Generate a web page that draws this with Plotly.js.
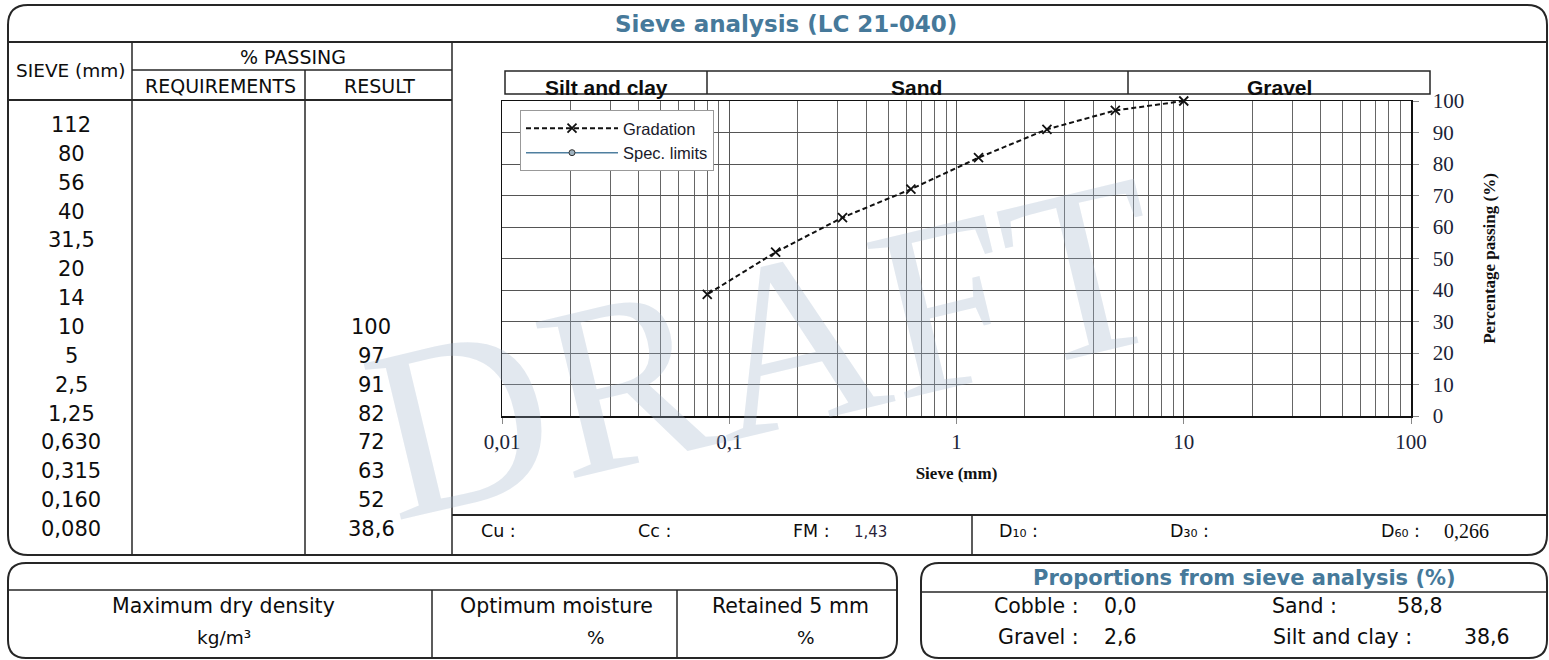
<!DOCTYPE html>
<html>
<head>
<meta charset="utf-8">
<script src="https://cdn.plot.ly/plotly-3.0.1.min.js"></script>
<style>html,body{margin:0;padding:0;background:#fff;}#chart{width:1549px;height:660px;}</style>
</head>
<body>
<div id="chart"></div>
<script>
// ---------------- DATA ----------------
const sieveSizes   = [112, 80, 56, 40, 31.5, 20, 14, 10, 5, 2.5, 1.25, 0.63, 0.315, 0.16, 0.08];
const sieveLabels  = ['112','80','56','40','31,5','20','14','10','5','2,5','1,25','0,630','0,315','0,160','0,080'];
const resultPass   = [null, null, null, null, null, null, null, 100, 97, 91, 82, 72, 63, 52, 38.6];
const resultLabels = ['','','','','','','','100','97','91','82','72','63','52','38,6'];
const requirements = [null, null, null, null, null, null, null, null, null, null, null, null, null, null, null];
const xTickVals    = [0.01, 0.1, 1, 10, 100];
const xTickLabels  = ['0,01', '0,1', '1', '10', '100'];
const zoneNames    = ['Silt and clay', 'Sand', 'Gravel'];
const summaryLabels = ['Cu :', 'Cc :', 'FM :', 'D₁₀ :', 'D₃₀ :', 'D₆₀ :'];
const summaryValues = ['', '', '1,43', '', '', '0,266'];
const proportionNames  = ['Cobble :', 'Sand :', 'Gravel :', 'Silt and clay :'];
const proportionValues = ['0,0', '58,8', '2,6', '38,6'];
const compactionLabels = ['Maximum dry density', 'Optimum moisture', 'Retained 5 mm'];
const compactionUnits  = ['kg/m³', '%', '%'];

// ---------------- LAYOUT HELPERS ----------------
const W = 1549, H = 660;
const X = p => p / W;
const Y = p => 1 - p / H;
const LINE = '#262626';
const SANS = 'DejaVu Sans, Verdana, sans-serif';
const SERIF = 'Liberation Serif, Times New Roman, serif';
const BLUE = '#46799a';

function line(x0, y0, x1, y1, w, c) {
  return {type:'line', xref:'paper', yref:'paper', x0:X(x0), y0:Y(y0), x1:X(x1), y1:Y(y1),
          line:{color:c || LINE, width:w || 1.5}, layer:'above'};
}
function roundRect(x0, y0, x1, y1, r, w) {
  const p = `M ${X(x0)},${Y(y0 + r)} Q ${X(x0)},${Y(y0)} ${X(x0 + r)},${Y(y0)} ` +
            `L ${X(x1 - r)},${Y(y0)} Q ${X(x1)},${Y(y0)} ${X(x1)},${Y(y0 + r)} ` +
            `L ${X(x1)},${Y(y1 - r)} Q ${X(x1)},${Y(y1)} ${X(x1 - r)},${Y(y1)} ` +
            `L ${X(x0 + r)},${Y(y1)} Q ${X(x0)},${Y(y1)} ${X(x0)},${Y(y1 - r)} Z`;
  return {type:'path', xref:'paper', yref:'paper', path:p, line:{color:LINE, width:w || 2}, layer:'above'};
}
function text(t, x, y, size, opts) {
  opts = opts || {};
  return Object.assign({xref:'paper', yref:'paper', x:X(x), y:Y(y), text:t, showarrow:false,
    xanchor:opts.xanchor || 'center', yanchor:'middle',
    font:{family:opts.family || SANS, size:size, color:opts.color || '#0d0d0d'}}, opts.extra || {});
}

// ---------------- SHAPES ----------------
const shapes = [];
shapes.push(roundRect(8, 5, 1547, 555, 20, 2));
shapes.push(line(8, 42, 1547, 42, 2));
shapes.push(line(132, 42, 132, 555, 1.5));
shapes.push(line(305, 70, 305, 555, 1.5));
shapes.push(line(452, 42, 452, 555, 1.5));
shapes.push(line(132, 70, 452, 70, 1.5));
shapes.push(line(8, 100, 452, 100, 2));
shapes.push(line(452, 515, 1547, 515, 2));
shapes.push(line(972, 515, 972, 555, 1.5));
// soil zone boxes
shapes.push({type:'rect', xref:'paper', yref:'paper', x0:X(505), y0:Y(94), x1:X(1430), y1:Y(71),
             line:{color:LINE, width:1.5}, layer:'above'});
shapes.push(line(707, 71, 707, 94, 1.5));
shapes.push(line(1128, 71, 1128, 94, 1.5));
// bottom boxes
shapes.push(roundRect(8, 563, 897, 658, 18, 2));
shapes.push(line(8, 590, 897, 590, 1.5));
shapes.push(line(432, 590, 432, 658, 1.5));
shapes.push(line(677, 590, 677, 658, 1.5));
shapes.push(roundRect(921, 563, 1547, 658, 18, 2));
shapes.push(line(921, 592, 1547, 592, 1.5));

// ---------------- ANNOTATIONS ----------------
const ann = [];
ann.push(text('<b>Sieve analysis (LC 21-040)</b>', 786, 24, 23, {color:BLUE}));
ann.push(text('SIEVE (mm)', 71, 71, 18.5));
ann.push(text('% PASSING', 293, 57, 19));
ann.push(text('REQUIREMENTS', 220, 86, 19));
ann.push(text('RESULT', 379, 86, 19));
const rowY0 = 125, rowStep = (529 - 125) / 14;
sieveLabels.forEach((s, i) => ann.push(text(s, 71, rowY0 + i * rowStep, 21)));
resultLabels.forEach((s, i) => { if (s) ann.push(text(s, 371, rowY0 + i * rowStep, 21)); });

// zone labels
const zoneCenters = [606, 917, 1279];
zoneNames.forEach((z, i) => ann.push(text('<b>' + z + '</b>', zoneCenters[i], 87, 21,
  {family:'Liberation Sans, Arial, sans-serif'})));

// summary row
const sumX = [498, 654, 811, 1018, 1189, 1400];
summaryLabels.forEach((s, i) => ann.push(text(s, sumX[i], 531, 17.5)));
const sumValX = [0, 0, 870, 0, 0, 1466];
summaryValues.forEach((s, i) => {
  if (!s) return;
  if (i === 5) ann.push(text(s, sumValX[i], 531, 20, {family:SERIF}));
  else ann.push(text(s, sumValX[i], 532, 15, {color:'#2a1f3a'}));
});

// compaction box
const compX = [223, 556, 790], unitX = [224, 596, 806];
compactionLabels.forEach((s, i) => ann.push(text(s, compX[i], 606, 20.5)));
compactionUnits.forEach((s, i) => ann.push(text(s, unitX[i], 637, 18.5)));

// proportions box
ann.push(text('<b>Proportions from sieve analysis (%)</b>', 1244, 578, 21, {color:BLUE}));
const propNameX = [1081, 1339, 1081, 1414], propNameY = [606, 606, 637, 637];
const propValX = [1120, 1420, 1120, 1487];
proportionNames.forEach((s, i) => ann.push(text(s, propNameX[i], propNameY[i], 20.5, {xanchor:'right'})));
proportionValues.forEach((s, i) => ann.push(text(s, propValX[i], propNameY[i], 20.5)));

// watermark
ann.push({xref:'paper', yref:'paper', x:X(765), y:Y(348), text:'DRAFT', showarrow:false,
  textangle:-13.5, font:{family:SERIF, size:245, color:'rgba(160,178,202,0.30)'}});

// minor gridlines (log axis, 2..9 in every decade)
const minorVals = [];
for (let d = -2; d < 2; d++) for (let m = 2; m <= 9; m++) minorVals.push(m * Math.pow(10, d));

const traces = [
  {x: sieveSizes, y: resultPass, name: 'Gradation', type: 'scatter', mode: 'lines+markers',
   line: {color: '#111', width: 2, dash: '5px,3px'}, connectgaps: true, cliponaxis: false,
   marker: {symbol: 'x-thin', size: 9, color: '#111', line: {color: '#111', width: 1.8}}},
  {x: sieveSizes, y: requirements, name: 'Spec. limits', type: 'scatter', mode: 'lines+markers',
   line: {color: '#4f7f9f', width: 1.6}, cliponaxis: false,
   marker: {symbol: 'circle', size: 6, color: '#9fb2bf', line: {color: '#333', width: 1}}}
];

const layout = {
  width: W, height: H,
  margin: {l: 0, r: 0, t: 0, b: 0},
  paper_bgcolor: '#fff', plot_bgcolor: 'rgba(0,0,0,0)',
  showlegend: true,
  legend: {x: X(520), y: Y(110), xanchor: 'left', yanchor: 'top', bgcolor: '#fff',
           bordercolor: '#999', borderwidth: 1, itemwidth: 92,
           font: {family: 'Liberation Sans, Arial, sans-serif', size: 16.5, color: '#1a1a2a'},
           tracegroupgap: 0},
  xaxis: {type: 'log', range: [-2, 2], domain: [X(502), X(1411)],
          tickvals: xTickVals, ticktext: xTickLabels, ticks: 'outside', ticklen: 6, tickcolor: '#888',
          ticklabelstandoff: 0,
          showgrid: true, gridcolor: '#555', gridwidth: 1,
          minor: {tickvals: minorVals, showgrid: true, gridcolor: '#666', gridwidth: 1, ticks: ''},
          showline: true, linecolor: '#111', linewidth: 1.5, mirror: true, zeroline: false,
          tickfont: {family: SERIF, size: 21, color: '#1b2437'},
          title: {text: '<b>Sieve (mm)</b>', font: {family: SERIF, size: 17, color: '#111'}, standoff: 14},
          fixedrange: true},
  yaxis: {range: [0, 100], domain: [Y(416), Y(101)], side: 'right', dtick: 10,
          ticks: 'outside', ticklen: 6, tickcolor: '#888', ticklabelstandoff: 10,
          showgrid: true, gridcolor: '#555', gridwidth: 1,
          showline: true, linecolor: '#111', linewidth: 1.5, mirror: true, zeroline: false,
          tickfont: {family: SERIF, size: 21, color: '#1b2437'},
          title: {text: '<b>Percentage passing (%)</b>', font: {family: SERIF, size: 17, color: '#111'}, standoff: 20},
          fixedrange: true},
  shapes: shapes,
  annotations: ann
};

Plotly.newPlot('chart', traces, layout, {displayModeBar: false, staticPlot: true});
</script>
</body>
</html>
